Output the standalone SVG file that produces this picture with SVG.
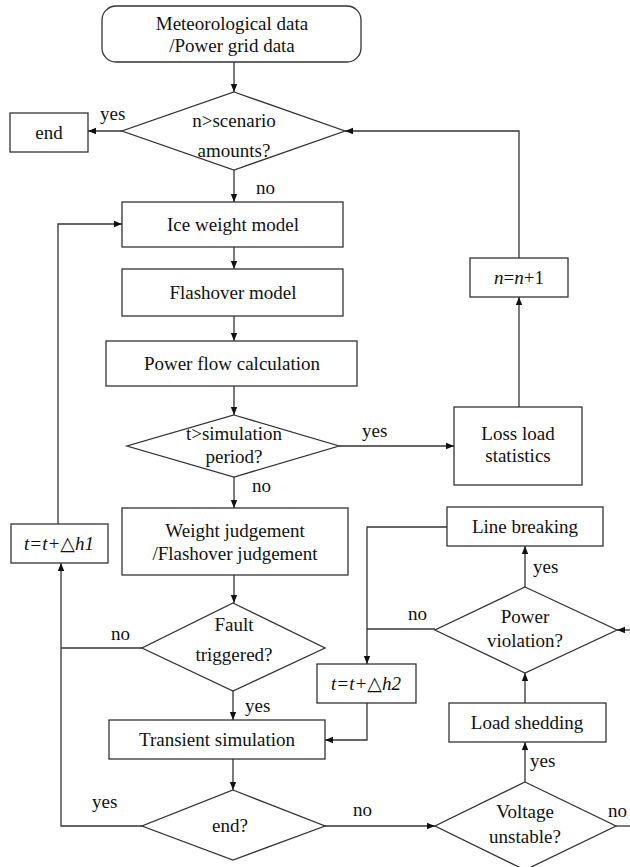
<svg xmlns="http://www.w3.org/2000/svg" width="630" height="867" viewBox="0 0 630 867">
<defs>
<marker id="ah" viewBox="0 0 10 10" refX="10" refY="5" markerWidth="8" markerHeight="8" markerUnits="userSpaceOnUse" orient="auto">
<path d="M0,1 L10,5 L0,9 Z" fill="#111"/>
</marker>
<style>
.n{fill:#fff;stroke:#333;stroke-width:1.3}
.t{font-size:19px;fill:#111;text-anchor:middle}
.l{font-size:19px;fill:#111}
.c{fill:none;stroke:#333;stroke-width:1.3}
.a{marker-end:url(#ah)}
</style>
</defs>
<rect width="630" height="867" fill="#fff"/>
<g font-family="Liberation Serif, DejaVu Serif, serif">
<g id="connectors">
<path class="c a" d="M234,62 V92"/>
<path class="c a" d="M122,131 H88"/>
<path class="c a" d="M519,407 V297"/>
<path class="c a" d="M519,258 V131 H345"/>
<path class="c a" d="M234,170 V202"/>
<path class="c a" d="M234,247 V269"/>
<path class="c a" d="M234,316 V341"/>
<path class="c a" d="M234,386 V415"/>
<path class="c a" d="M339,446 H454"/>
<path class="c a" d="M234,477 V508"/>
<path class="c a" d="M234,575 V603"/>
<path class="c a" d="M233,691 V720"/>
<path class="c a" d="M233,759 V790"/>
<path class="c a" d="M142,826 H61 V563"/>
<path class="c" d="M142,648 H61"/>
<path class="c a" d="M58,524 V224 H122"/>
<path class="c a" d="M325,826 H435"/>
<path class="c a" d="M525,782 V742"/>
<path class="c a" d="M525,703 V673"/>
<path class="c a" d="M525,587 V546"/>
<path class="c a" d="M447,527 H367 V664"/>
<path class="c" d="M435,629 H367"/>
<path class="c a" d="M367,703 V740 H325"/>
<path class="c" d="M616,826 H630"/>
<path class="c a" d="M630,630 H617"/>
<text class="l" x="100" y="120">yes</text>
<text class="l" x="256" y="194">no</text>
<text class="l" x="362" y="437">yes</text>
<text class="l" x="252" y="492">no</text>
<text class="l" x="111" y="640">no</text>
<text class="l" x="245" y="712">yes</text>
<text class="l" x="92" y="808">yes</text>
<text class="l" x="353" y="816">no</text>
<text class="l" x="533" y="573">yes</text>
<text class="l" x="408" y="620">no</text>
<text class="l" x="530" y="767">yes</text>
<text class="l" x="608" y="817">no</text>
</g>
<g id="start">
<rect class="n" x="102" y="6" width="259" height="56" rx="14"/>
<text class="t" x="232" y="30">Meteorological data</text>
<text class="t" x="232" y="52">/Power grid data</text>
</g>
<g id="dec-scenario">
<polygon class="n" points="234,92 345,131 234,170 122,131"/>
<text class="t" x="234" y="127">n&gt;scenario</text>
<text class="t" x="234" y="157">amounts?</text>
</g>
<g id="end">
<rect class="n" x="10" y="113" width="78" height="39"/>
<text class="t" x="49" y="139">end</text>
</g>
<g id="ice">
<rect class="n" x="122" y="202" width="221" height="45"/>
<text class="t" x="233" y="231">Ice weight model</text>
</g>
<g id="flashover">
<rect class="n" x="122" y="269" width="221" height="47"/>
<text class="t" x="233" y="299">Flashover model</text>
</g>
<g id="powerflow">
<rect class="n" x="106" y="341" width="251" height="45"/>
<text class="t" x="232" y="370">Power flow calculation</text>
</g>
<g id="dec-period">
<polygon class="n" points="234,415 339,446 234,477 127,446"/>
<text class="t" x="234" y="440">t&gt;simulation</text>
<text class="t" x="234" y="463">period?</text>
</g>
<g id="loss">
<rect class="n" x="454" y="407" width="128" height="78"/>
<text class="t" x="518" y="440">Loss load</text>
<text class="t" x="518" y="462">statistics</text>
</g>
<g id="ninc">
<rect class="n" x="470" y="258" width="98" height="39"/>
<text class="t" x="519" y="284"><tspan font-style="italic">n</tspan>=<tspan font-style="italic">n</tspan>+1</text>
</g>
<g id="judge">
<rect class="n" x="122" y="508" width="226" height="67"/>
<text class="t" x="235" y="537">Weight judgement</text>
<text class="t" x="235" y="560">/Flashover judgement</text>
</g>
<g id="tinc1">
<rect class="n" x="11" y="524" width="97" height="39"/>
<text class="t" x="59" y="550" font-style="italic">t=t+△h1</text>
</g>
<g id="dec-fault">
<polygon class="n" points="233,603 325,648 233,691 142,648"/>
<text class="t" x="234" y="631">Fault</text>
<text class="t" x="234" y="661">triggered?</text>
</g>
<g id="transient">
<rect class="n" x="109" y="720" width="216" height="39"/>
<text class="t" x="217" y="746">Transient simulation</text>
</g>
<g id="dec-end">
<polygon class="n" points="233,790 325,826 233,860 142,826"/>
<text class="t" x="230" y="832">end?</text>
</g>
<g id="linebreak">
<rect class="n" x="447" y="507" width="156" height="39"/>
<text class="t" x="525" y="533">Line breaking</text>
</g>
<g id="dec-power">
<polygon class="n" points="525,587 617,630 525,673 435,630"/>
<text class="t" x="525" y="623">Power</text>
<text class="t" x="525" y="647">violation?</text>
</g>
<g id="tinc2">
<rect class="n" x="317" y="664" width="99" height="39"/>
<text class="t" x="366" y="690" font-style="italic">t=t+△h2</text>
</g>
<g id="loadshed">
<rect class="n" x="449" y="703" width="157" height="39"/>
<text class="t" x="527" y="729">Load shedding</text>
</g>
<g id="dec-voltage">
<polygon class="n" points="525,782 616,826 525,870 435,826"/>
<text class="t" x="525" y="818">Voltage</text>
<text class="t" x="525" y="843">unstable?</text>
</g>
</g>
</svg>
